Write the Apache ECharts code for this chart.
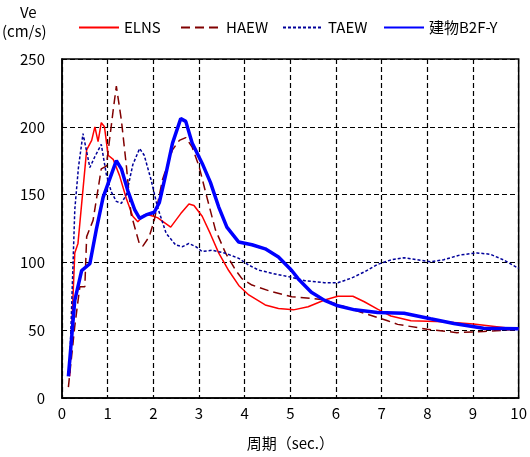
<!DOCTYPE html>
<html><head><meta charset="utf-8">
<script src="https://cdn.jsdelivr.net/npm/echarts@6/dist/echarts.min.js"></script>
<style>html,body{margin:0;padding:0;background:#fff}#c{width:530px;height:457px}</style>
</head><body><div id="c"></div>
<script>
const FONT = '"Noto Sans CJK JP", "Noto Sans", sans-serif';
const seriesNames = ['ELNS', 'HAEW', 'TAEW', '建物B2F-Y'];
const xTicks = [0,1,2,3,4,5,6,7,8,9,10];
const yTicks = [0,50,100,150,200,250];

const elnsX = [0.17,0.28,0.35,0.54,0.65,0.72,0.79,0.86,0.93,1.01,1.12,1.26,1.41,1.55,1.66,1.80,1.91,2.09,2.38,2.60,2.78,2.89,3.07,3.25,3.43,3.65,3.87,4.09,4.45,4.74,5.07,5.39,5.75,6.04,6.37,6.62,6.91,7.2,7.64,8.36,9.01,9.52,10.0];
const elnsY = [16,107,114,183,190,200,189,203,200,179,176,164,147,134,130,135,135,133,126,136,143,142,134,121,107,94,83,76,68.6,66,65,67.3,72.3,75,75,71,65.5,60.5,57,56.3,54.6,52.6,50.7];

const haewX = [0.14,0.28,0.39,0.50,0.54,0.68,0.86,0.97,1.12,1.19,1.30,1.41,1.51,1.70,1.77,1.91,2.02,2.20,2.42,2.57,2.71,2.85,3.00,3.15,3.36,3.58,3.80,3.94,4.16,4.59,5.03,5.46,5.75,6.19,6.62,7.13,7.35,8.0,8.65,9.23,10.0];
const haewY = [8,53,82,82,119,131,169,171,212,230,205,171,136,113,112,119,131,161,183,190,192,185,171,151,124,107,94.4,88,83.3,78.4,74.7,73.5,72.3,67.3,62.4,57,54.3,50.7,48.2,49,50.7];

const taewX = [0.17,0.28,0.36,0.46,0.61,0.72,0.86,0.97,1.08,1.19,1.30,1.41,1.55,1.70,1.80,1.95,2.09,2.28,2.49,2.64,2.78,2.93,3.07,3.29,3.58,3.87,4.09,4.30,4.59,5.03,5.32,5.75,6.04,6.33,6.62,6.91,7.2,7.49,7.78,8.07,8.36,8.72,9.09,9.38,9.67,10.0];
const taewY = [25,139,170,195,170,178,187,165,152,145,143.6,150,172,184,179,161,141,121.5,112.8,111.6,114,111.6,108,109,106.7,103,98,94.4,92,89,86.5,85,85,88.3,93,98.5,101.8,103.5,102,100.5,102,105.5,107,106,101.8,95.6];

const b2fX = [0.14,0.28,0.43,0.61,0.75,0.90,1.04,1.19,1.30,1.44,1.59,1.70,1.84,2.02,2.13,2.28,2.42,2.60,2.71,2.85,3.07,3.25,3.43,3.61,3.87,4.16,4.45,4.74,5.03,5.17,5.46,5.75,6.04,6.41,6.91,7.49,8.07,8.58,9.23,10.0];
const b2fY = [16,72,94,99,124,148,161,175,169,153,139,132.5,135,137,144,166,188,206,204,188,173,159,141,126,115,113,110,104,94,88,78,72,68,65,63,62.5,58.5,55,51.4,51];

function pairs(xs, ys){ return xs.map((x,i)=>[x, ys[i]]); }

const styles = [
  {color:'#FF0000', width:1.5, type:'solid'},
  {color:'#800000', width:1.5, type:[9,5]},
  {color:'#00009A', width:1.5, type:[3,2]},
  {color:'#0000FF', width:3.5, type:'solid'}
];
const datas = [pairs(elnsX,elnsY), pairs(haewX,haewY), pairs(taewX,taewY), pairs(b2fX,b2fY)];
const legendLeft = [73, 175, 277, 378];

const chart = echarts.init(document.getElementById('c'), null, {renderer:'canvas'});
chart.setOption({
  animation:false,
  backgroundColor:'#fff',
  textStyle:{fontFamily:FONT},
  grid:{left:62, right:7, top:59, bottom:59, show:true, borderColor:'#000', borderWidth:1.5, backgroundColor:'transparent'},
  legend: seriesNames.map((n,i)=>({
    data:[n], left:legendLeft[i], top:15, itemWidth:40, itemHeight:14, itemGap:0,
    itemStyle:{opacity:0},
    textStyle:{fontFamily:FONT, fontSize:15, color:'#000'},
    selectedMode:false
  })),
  xAxis:{
    type:'value', min:0, max:10, interval:1,
    axisLine:{show:true, lineStyle:{color:'#000', width:1.5}},
    axisTick:{show:false},
    axisLabel:{fontFamily:FONT, fontSize:15, color:'#000', margin:8,
      formatter:v=> xTicks.includes(v) ? String(v) : ''},
    splitLine:{show:true, lineStyle:{color:'#000', width:1.2, type:[5,3]}},
    name:'周期（sec.）', nameLocation:'middle', nameGap:38,
    nameTextStyle:{fontFamily:FONT, fontSize:15, color:'#000'}
  },
  yAxis:{
    type:'value', min:0, max:250, interval:50,
    axisLine:{show:true, lineStyle:{color:'#000', width:1.5}},
    axisTick:{show:false},
    axisLabel:{fontFamily:FONT, fontSize:15, color:'#000', margin:17,
      formatter:v=> yTicks.includes(v) ? String(v) : ''},
    splitLine:{show:true, lineStyle:{color:'#000', width:1.2, type:[5,3]}}
  },
  graphic:[
    {type:'text', left:20, top:5, style:{text:'Ve', font:'15px '+FONT, fill:'#000'}},
    {type:'text', left:2, top:24, style:{text:'(cm/s)', font:'15px '+FONT, fill:'#000'}}
  ],
  series: seriesNames.map((n,i)=>({
    name:n, type:'line', data:datas[i], symbol:'none', smooth:false,
    lineStyle:{color:styles[i].color, width:styles[i].width, type:styles[i].type},
    itemStyle:{color:styles[i].color},
    z: 2+i
  }))
});
</script></body></html>
